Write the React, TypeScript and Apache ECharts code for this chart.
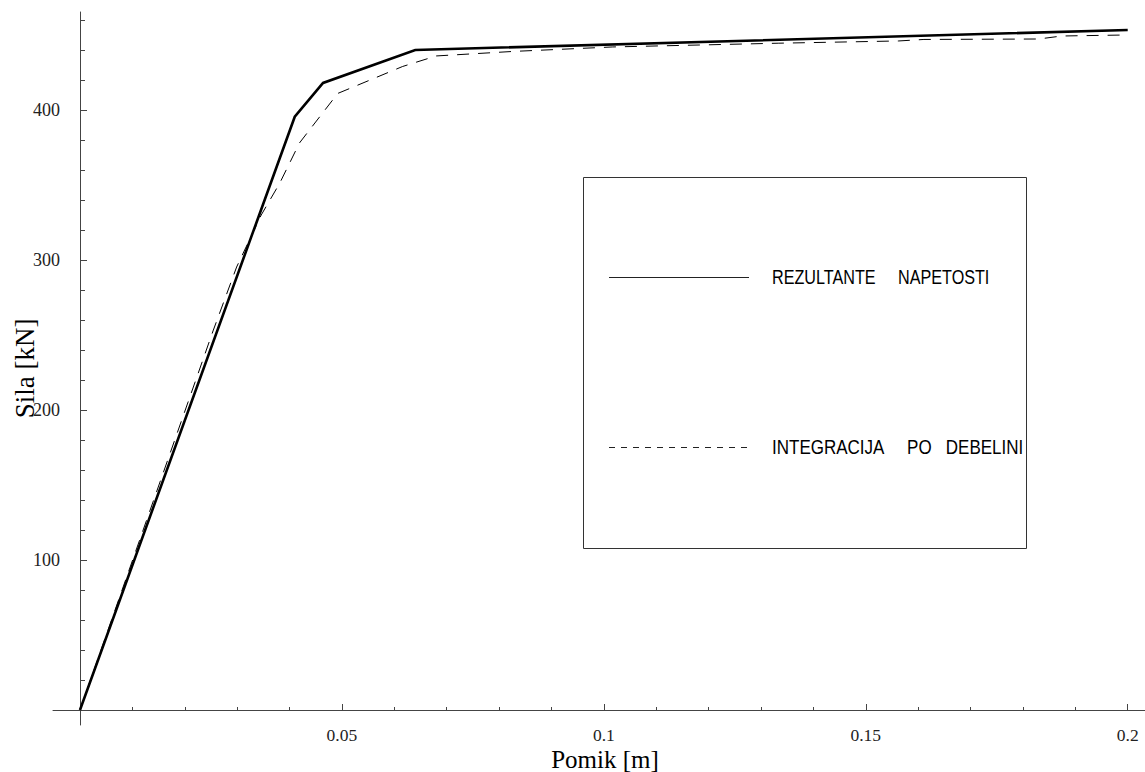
import React, { useEffect, useRef } from "react";
import * as echarts from "echarts";

// Displacement [m] and force [kN] — stress resultants (solid line)
const resultX = [0, 0.041, 0.0464, 0.064, 0.2];
const resultY = [0, 395.5, 418, 440, 453.3];

// Displacement [m] and force [kN] — integration through thickness (dashed line)
const integX = [0, 0.0254, 0.0299, 0.0346, 0.0381, 0.0419, 0.0461, 0.0492, 0.0616, 0.068, 0.0826, 0.1017, 0.1334, 0.1563, 0.1611, 0.183, 0.1874, 0.2];
const integY = [0, 252.7, 295.3, 330, 351, 378, 397, 411, 429, 436, 439, 442, 444.5, 446, 447, 447.3, 449.3, 450];

const seriesNames = ["REZULTANTE     NAPETOSTI", "INTEGRACIJA     PO   DEBELINI"];

const xMajorTicks = [0.05, 0.1, 0.15, 0.2];
const xMinorTicks = [0.01, 0.02, 0.03, 0.04, 0.06, 0.07, 0.08, 0.09, 0.11, 0.12, 0.13, 0.14, 0.16, 0.17, 0.18, 0.19];
const yMajorTicks = [100, 200, 300, 400];
const yMinorTicks = [20, 40, 60, 80, 120, 140, 160, 180, 220, 240, 260, 280, 320, 340, 360, 380, 420, 440, 460];

const xTitle = "Pomik [m]";
const yTitle = "Sila [kN]";

const SERIF = "Liberation Serif";
const SANS = "Liberation Sans";

const X_MIN = -0.00515;
const X_MAX = 0.2033;
const Y_MIN = -10;
const Y_MAX = 465.3;

export default function App() {
  const ref = useRef<HTMLDivElement>(null);
  useEffect(() => {
    if (!ref.current) return;
    const chart = echarts.init(ref.current, undefined, { renderer: "svg" });
    const axisCol = "#444";
    const fmtX = (v: number) => String(parseFloat(Number(v).toFixed(4)));
    chart.setOption({
      animation: false,
      backgroundColor: "#fff",
      grid: { left: 53, right: 0, top: 12, bottom: 47, containLabel: false, outerBoundsMode: "none" },
      xAxis: [
        {
          type: "value",
          position: "bottom",
          offset: -15,
          min: X_MIN,
          max: X_MAX,
          name: xTitle,
          nameLocation: "middle",
          nameGap: 37,
          nameMoveOverlap: false,
          nameTextStyle: { fontFamily: SERIF, fontSize: 25, lineHeight: 24, color: "#000", padding: [0, 0, 0, 12] },
          axisLine: { show: true, onZero: false, lineStyle: { color: axisCol, width: 1 } },
          axisTick: { show: true, inside: true, length: 6, customValues: xMajorTicks, lineStyle: { color: axisCol } },
          axisLabel: { show: true, customValues: xMajorTicks, formatter: fmtX, margin: 17, fontFamily: SERIF, fontSize: 17.5, lineHeight: 16, color: "#222" },
          splitLine: { show: false },
        },
        {
          type: "value",
          position: "bottom",
          offset: -15,
          min: X_MIN,
          max: X_MAX,
          axisLine: { show: false, onZero: false },
          axisTick: { show: true, inside: true, length: 3, customValues: xMinorTicks, lineStyle: { color: axisCol } },
          axisLabel: { show: false },
          splitLine: { show: false },
        },
      ],
      yAxis: [
        {
          type: "value",
          position: "left",
          offset: -27,
          min: Y_MIN,
          max: Y_MAX,
          name: yTitle,
          nameLocation: "middle",
          nameGap: 42,
          nameMoveOverlap: false,
          nameTextStyle: { fontFamily: SERIF, fontSize: 27, color: "#000" },
          axisLine: { show: true, onZero: false, lineStyle: { color: axisCol, width: 1 } },
          axisTick: { show: true, inside: true, length: 7, customValues: yMajorTicks, lineStyle: { color: axisCol } },
          axisLabel: { show: true, customValues: yMajorTicks, margin: 20, fontFamily: SERIF, fontSize: 18, color: "#222" },
          splitLine: { show: false },
        },
        {
          type: "value",
          position: "left",
          offset: -27,
          min: Y_MIN,
          max: Y_MAX,
          axisLine: { show: false, onZero: false },
          axisTick: { show: true, inside: true, length: 5, customValues: yMinorTicks, lineStyle: { color: axisCol } },
          axisLabel: { show: false },
          splitLine: { show: false },
        },
      ],
      graphic: [
        {
          type: "rect",
          shape: { x: 583.5, y: 177.5, width: 443, height: 371 },
          style: { fill: "none", stroke: "#333", lineWidth: 1 },
          z: 10,
        },
        {
          type: "line",
          shape: { x1: 609, y1: 277.5, x2: 749, y2: 277.5 },
          style: { stroke: "#222", lineWidth: 1 },
          z: 10,
        },
        {
          type: "line",
          shape: { x1: 609, y1: 447.5, x2: 749, y2: 447.5 },
          style: { stroke: "#222", lineWidth: 1, lineDash: [6, 6] },
          z: 10,
        },
        {
          type: "text",
          x: 772,
          y: 277,
          scaleX: 0.77,
          style: { text: seriesNames[0], fontFamily: SANS, fontSize: 21, fill: "#000", verticalAlign: "middle", align: "left" },
          z: 10,
        },
        {
          type: "text",
          x: 772,
          y: 447,
          scaleX: 0.81,
          style: { text: seriesNames[1], fontFamily: SANS, fontSize: 21, fill: "#000", verticalAlign: "middle", align: "left" },
          z: 10,
        },
      ],
      series: [
        {
          name: seriesNames[0],
          type: "line",
          data: resultX.map((x, i) => [x, resultY[i]]),
          symbol: "none",
          lineStyle: { color: "#000", width: 2.6, type: "solid", join: "miter" },
          itemStyle: { color: "#000" },
          z: 2,
        },
        {
          name: seriesNames[1],
          type: "line",
          data: integX.map((x, i) => [x, integY[i]]),
          symbol: "none",
          lineStyle: { color: "#000", width: 1, type: [12, 9] },
          itemStyle: { color: "#000" },
          z: 3,
        },
      ],
    });
    return () => chart.dispose();
  }, []);
  return <div ref={ref} style={{ position: "fixed", left: 0, top: 0, width: 1145, height: 772, background: "#fff" }} />;
}
